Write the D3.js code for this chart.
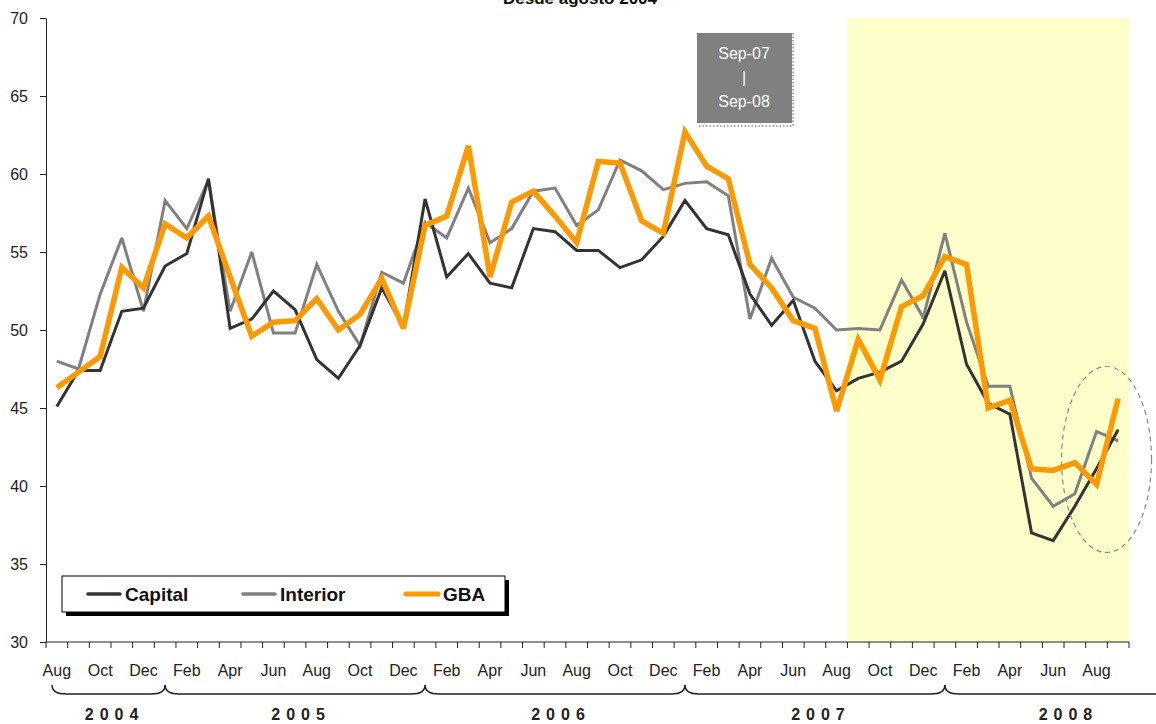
<!DOCTYPE html>
<html>
<head>
<meta charset="utf-8">
<script src="https://cdn.jsdelivr.net/npm/d3@7"></script>
<style>
  body { margin: 0; background: #fff; }
  svg { display: block; font-family: "Liberation Sans", Arial, sans-serif; }
</style>
</head>
<body>
<div id="chart"></div>
<script>
// months from Aug 2004 to Sep 2008
var months = ["Aug","Sep","Oct","Nov","Dec",
  "Jan","Feb","Mar","Apr","May","Jun","Jul","Aug","Sep","Oct","Nov","Dec",
  "Jan","Feb","Mar","Apr","May","Jun","Jul","Aug","Sep","Oct","Nov","Dec",
  "Jan","Feb","Mar","Apr","May","Jun","Jul","Aug","Sep","Oct","Nov","Dec",
  "Jan","Feb","Mar","Apr","May","Jun","Jul","Aug","Sep"];

var capital = [45.1, 47.4, 47.4, 51.2, 51.4, 54.1, 54.9, 59.7, 50.1, 50.7, 52.5, 51.3, 48.1,
  46.9, 49.0, 52.7, 50.2, 58.4, 53.4, 54.9, 53.0, 52.7, 56.5, 56.3, 55.1,
  55.1, 54.0, 54.5, 56.0, 58.3, 56.5, 56.1, 52.3, 50.3, 51.9, 48.0, 46.1,
  46.9, 47.3, 48.0, 50.4, 53.8, 47.8, 45.3, 44.6, 37.0, 36.5, 38.7, 41.1, 43.6];

var interior = [48.0, 47.5, 52.3, 55.9, 51.2, 58.3, 56.5, 59.6, 51.2, 55.0, 49.8, 49.8, 54.2,
  51.2, 49.0, 53.7, 53.0, 56.9, 55.9, 59.1, 55.6, 56.5, 58.9, 59.1, 56.7,
  57.7, 60.9, 60.2, 59.0, 59.4, 59.5, 58.6, 50.7, 54.6, 52.1, 51.4, 50.0,
  50.1, 50.0, 53.2, 50.8, 56.2, 50.5, 46.4, 46.4, 40.5, 38.7, 39.5, 43.5, 42.9];

var gba = [46.3, 47.3, 48.3, 54.0, 52.7, 56.8, 55.9, 57.3, 53.4, 49.6, 50.5, 50.6, 52.0,
  50.0, 51.0, 53.3, 50.1, 56.7, 57.3, 61.8, 53.4, 58.2, 58.9, 57.3, 55.6,
  60.8, 60.7, 57.0, 56.2, 62.7, 60.5, 59.7, 54.2, 52.7, 50.6, 50.1, 44.8,
  49.4, 46.8, 51.5, 52.2, 54.7, 54.2, 45.0, 45.5, 41.1, 41.0, 41.5, 40.1, 45.6];

var years = ["2004", "2005", "2006", "2007", "2008"];
var yTicks = [30, 35, 40, 45, 50, 55, 60, 65, 70];

var series = [
  { name: "Interior", values: interior, color: "#808080", width: 3 },
  { name: "Capital", values: capital, color: "#333333", width: 3 },
  { name: "GBA", values: gba, color: "#FF9900", width: 5.5 }
];

var width = 1156, height = 724;
var plotLeft = 46, plotRight = 1129, plotTop = 18, plotBottom = 642;

var idx = d3.range(months.length);

var x = d3.scaleBand()
    .domain(idx)
    .range([plotLeft, plotRight]);

var y = d3.scaleLinear()
    .domain([30, 70])
    .range([plotBottom, plotTop]);

var cx = i => x(i) + x.bandwidth() / 2;

var svg = d3.select("#chart").append("svg")
    .attr("width", width)
    .attr("height", height);

// shaded period Sep-07 .. Sep-08
svg.append("rect")
    .attr("x", x(37))
    .attr("y", y(70))
    .attr("width", plotRight - x(37))
    .attr("height", y(30) - y(70))
    .attr("fill", "#FFFFCC");

// title (cut off at top, as in the original)
svg.append("text")
    .attr("x", 580)
    .attr("y", 4)
    .attr("text-anchor", "middle")
    .style("font-size", "17px")
    .style("font-weight", "bold")
    .attr("fill", "#111")
    .text("Desde agosto 2004");

// y axis
var yAxis = svg.append("g")
    .attr("transform", `translate(${plotLeft},0)`)
    .call(d3.axisLeft(y).tickValues(yTicks).tickSize(6).tickPadding(12).tickSizeOuter(0));
yAxis.select(".domain").attr("stroke", "#222");
yAxis.selectAll(".tick line").attr("stroke", "#222");
yAxis.selectAll("text")
    .style("font-size", "16px")
    .style("font-family", "'Liberation Sans', Arial, sans-serif")
    .attr("fill", "#222");

// x axis: ticks at month boundaries, labels every second month
var xg = svg.append("g");
xg.append("line")
    .attr("x1", plotLeft).attr("x2", plotRight)
    .attr("y1", plotBottom).attr("y2", plotBottom)
    .attr("stroke", "#222");
xg.selectAll("line.tk")
    .data(d3.range(months.length + 1))
    .join("line")
    .attr("class", "tk")
    .attr("x1", d => plotLeft + d * x.step())
    .attr("x2", d => plotLeft + d * x.step())
    .attr("y1", plotBottom)
    .attr("y2", plotBottom + 6)
    .attr("stroke", "#222");
xg.selectAll("text")
    .data(idx.filter(i => i % 2 == 0))
    .join("text")
    .attr("x", cx)
    .attr("y", 676)
    .attr("text-anchor", "middle")
    .style("font-size", "16px")
    .attr("fill", "#222")
    .text(i => months[i]);

// year brackets: each spans from January centre to next January centre
var yearStart = [x(0) + 6, cx(5), cx(17), cx(29), cx(41)];
var yearEnd = [cx(5), cx(17), cx(29), cx(41), 1180];
var bg = svg.append("g");
years.forEach(function(yr, k) {
    var a = yearStart[k], b = yearEnd[k];
    var t = 685, l = 694;
    bg.append("path")
        .attr("d", `M${a},${t} Q${a},${l} ${a + 14},${l} L${b - 14},${l} Q${b},${l} ${b},${t}`)
        .attr("fill", "none")
        .attr("stroke", "#222")
        .attr("stroke-width", 1.5);
    bg.append("text")
        .attr("x", (a + b) / 2 + 6)
        .attr("y", 720)
        .attr("text-anchor", "middle")
        .style("font-size", "16px")
        .style("font-weight", "bold")
        .style("letter-spacing", "6px")
        .attr("fill", "#222")
        .text(yr);
});

// lines
var line = d3.line()
    .x((d, i) => cx(i))
    .y(d => y(d));

svg.append("g")
    .selectAll("path")
    .data(series)
    .join("path")
    .attr("d", d => line(d.values))
    .attr("fill", "none")
    .attr("stroke", d => d.color)
    .attr("stroke-width", d => d.width)
    .attr("stroke-linejoin", "miter")
    .attr("stroke-miterlimit", 3);

// dashed ellipse around the latest months
svg.append("ellipse")
    .attr("cx", cx(48) + 10)
    .attr("cy", y(41.7))
    .attr("rx", 45)
    .attr("ry", 93)
    .attr("fill", "none")
    .attr("stroke", "#888")
    .attr("stroke-width", 1.2)
    .attr("stroke-dasharray", "5,4");

// Sep-07 | Sep-08 label box
var box = svg.append("g").attr("transform", "translate(697,33)");
box.append("rect")
    .attr("width", 95).attr("height", 90)
    .attr("fill", "#808080");
box.append("path")
    .attr("d", "M96,0 L96,93 L0,93")
    .attr("fill", "none")
    .attr("stroke", "#aaa")
    .attr("stroke-width", 2)
    .attr("stroke-dasharray", "1.5,2");
["Sep-07", "|", "Sep-08"].forEach(function(s, k) {
    box.append("text")
        .attr("x", 47)
        .attr("y", 26 + k * 24)
        .attr("text-anchor", "middle")
        .style("font-size", "16px")
        .attr("fill", "#fff")
        .text(s);
});

// legend
var lg = svg.append("g").attr("transform", "translate(62,576)");
lg.append("rect")
    .attr("x", 4).attr("y", 4)
    .attr("width", 443).attr("height", 36)
    .attr("fill", "#000");
lg.append("rect")
    .attr("width", 443).attr("height", 36)
    .attr("fill", "#fff")
    .attr("stroke", "#000");
var legX = [26, 181, 344];
[series[1], series[0], series[2]].forEach(function(s, k) {
    lg.append("line")
        .attr("x1", legX[k]).attr("x2", legX[k] + 32)
        .attr("y1", 18).attr("y2", 18)
        .attr("stroke", s.color)
        .attr("stroke-width", s.width > 4 ? 5 : 3.5)
        .attr("stroke-linecap", "round");
    lg.append("text")
        .attr("x", legX[k] + 37)
        .attr("y", 25)
        .style("font-size", "19px")
        .style("font-weight", "bold")
        .attr("fill", "#111")
        .text(s.name);
});
</script>
</body>
</html>
